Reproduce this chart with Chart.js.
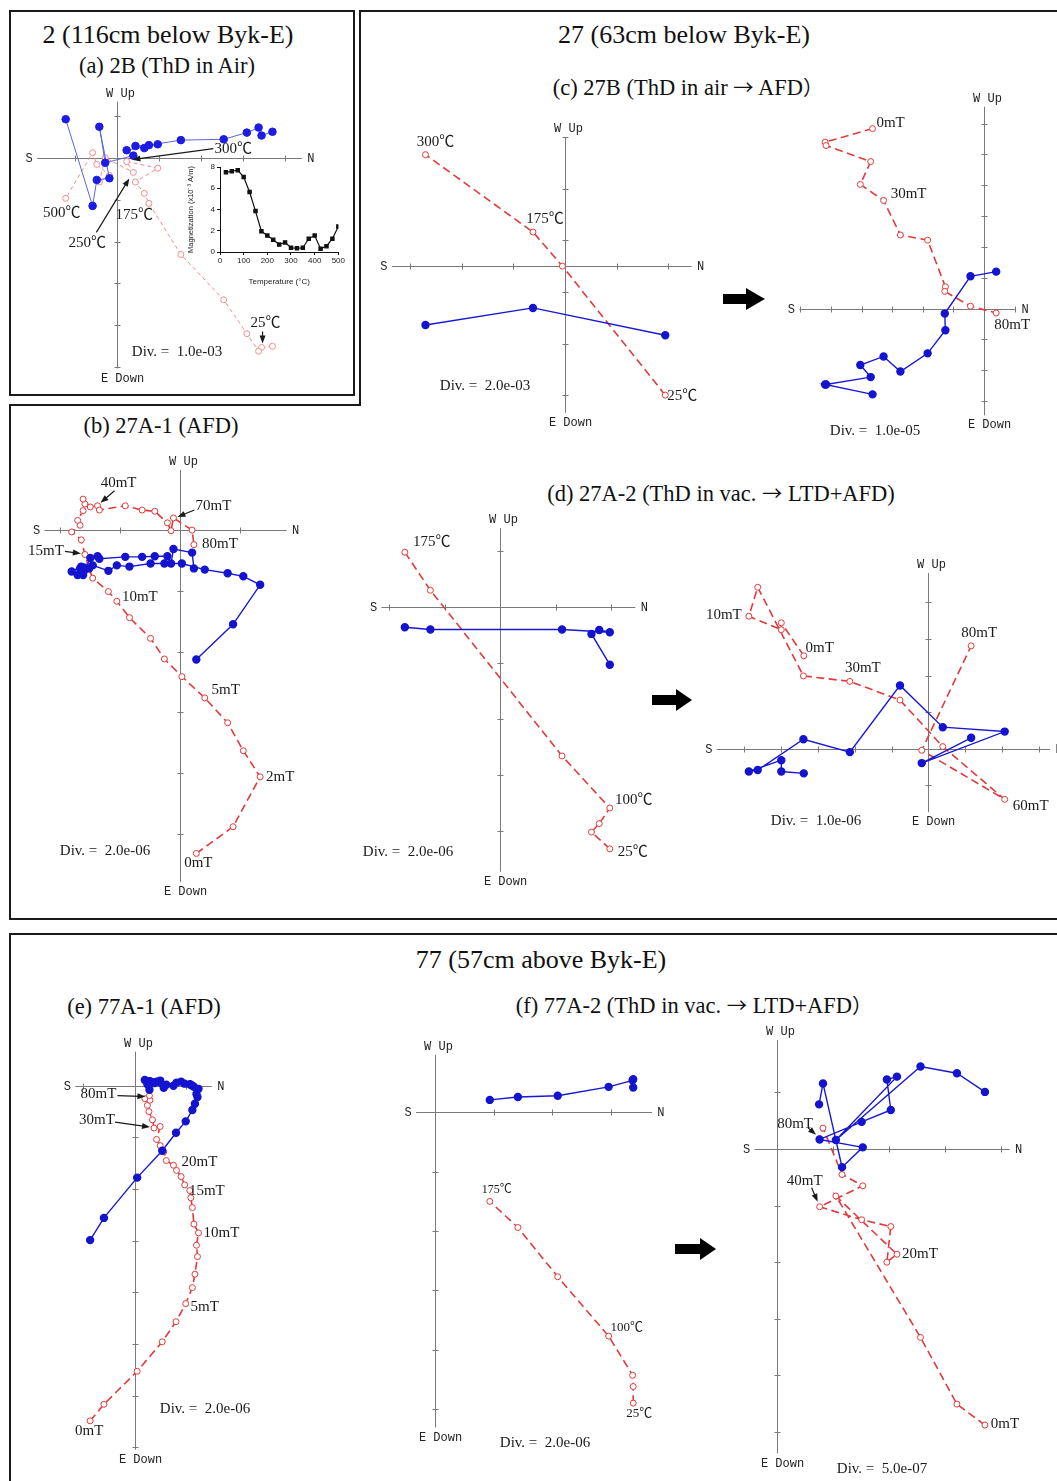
<!DOCTYPE html>
<html>
<head>
<meta charset="utf-8">
<script src="https://cdn.jsdelivr.net/npm/chart.js@4.4.1/dist/chart.umd.min.js"></script>
<style>
  html, body { margin: 0; padding: 0; background: #fff; }
  #fig { position: relative; width: 1057px; height: 1481px; overflow: hidden;
         font-family: "Liberation Serif", "Noto Sans CJK JP", serif; color: #111; }
  #fig canvas { position: absolute; }
  .t { position: absolute; white-space: nowrap; transform: translate(-50%, -50%); line-height: 1; }
  .big { font-size: 26px; }
  .sub { font-size: 22.5px; }
  .cj { font-family: "Noto Sans CJK JP", sans-serif; font-size: 0.9em; }
  .ln { position: absolute; background: #1a1a1a; }
</style>
</head>
<body>
<div id="fig">
  <!-- frames -->
  <div class="ln" style="left:9px;top:10px;width:346px;height:2px"></div>
  <div class="ln" style="left:9px;top:394px;width:346px;height:2px"></div>
  <div class="ln" style="left:9px;top:10px;width:2px;height:386px"></div>
  <div class="ln" style="left:353px;top:10px;width:2px;height:386px"></div>

  <div class="ln" style="left:359px;top:10px;width:698px;height:2px"></div>
  <div class="ln" style="left:359px;top:10px;width:2px;height:396px"></div>
  <div class="ln" style="left:9px;top:404px;width:352px;height:2px"></div>
  <div class="ln" style="left:9px;top:404px;width:2px;height:516px"></div>
  <div class="ln" style="left:9px;top:918px;width:1048px;height:2px"></div>

  <div class="ln" style="left:9px;top:933px;width:1048px;height:2px"></div>
  <div class="ln" style="left:9px;top:933px;width:2px;height:548px"></div>

  <!-- titles -->
  <div class="t big" style="left:168px;top:35px">2 (116cm below Byk-E)</div>
  <div class="t sub" style="left:167px;top:66px">(a) 2B (ThD in Air)</div>
  <div class="t big" style="left:684px;top:35px">27 (63cm below Byk-E)</div>
  <div class="t sub" style="left:688px;top:88px">(c) 27B (ThD in air <span class="cj">→</span> AFD<span class="cj">）</span></div>
  <div class="t sub" style="left:161px;top:426px">(b) 27A-1 (AFD)</div>
  <div class="t sub" style="left:721px;top:494px">(d) 27A-2 (ThD in vac. <span class="cj">→</span> LTD+AFD)</div>
  <div class="t big" style="left:541px;top:960px">77 (57cm above Byk-E)</div>
  <div class="t sub" style="left:144px;top:1007px">(e) 77A-1 (AFD)</div>
  <div class="t sub" style="left:694px;top:1006px">(f) 77A-2 (ThD in vac. <span class="cj">→</span> LTD+AFD<span class="cj">）</span></div>

  <!-- step arrows between paired diagrams -->
  <svg style="position:absolute;left:0;top:0" width="1057" height="1481">
    <polygon points="723,294 746,294 746,288 765,299 746,310 746,304 723,304" fill="#000"/>
    <polygon points="652,695 676,695 676,689 692,700 676,711 676,705 652,705" fill="#000"/>
    <polygon points="675,1244 700,1244 700,1238 716,1249 700,1260 700,1254 675,1254" fill="#000"/>
  </svg>

  <canvas id="zA"></canvas>
  <canvas id="inset"></canvas>
  <canvas id="zC1"></canvas>
  <canvas id="zC2"></canvas>
  <canvas id="zB"></canvas>
  <canvas id="zD1"></canvas>
  <canvas id="zD2"></canvas>
  <canvas id="zE"></canvas>
  <canvas id="zF1"></canvas>
  <canvas id="zF2"></canvas>
</div>

<script>
// All Zijderveld values are in axis divisions (one tick = one "Div.").
// north = x, west = horizontal projection (blue), up = vertical projection (red)

// (a) 2B, thermal demag in air
const aNorth = [3.70, 3.44, 3.37, 3.09, 2.54, 1.52, 0.76, 0.65, 0.44, 0.97, 0.23, 0.39, -0.28, -0.42, -0.18, -0.48, -0.58, -1.22];
const aWest  = [0.62, 0.53, 0.72, 0.60, 0.44, 0.42, 0.30, 0.23, 0.28, 0.32, 0.18, 0.05, -0.12, 0.74, -0.49, -0.53, -1.15, 0.92];
const aUp    = [-4.50, -4.53, -4.62, -4.20, -3.39, -2.31, -1.09, -0.85, -0.58, -0.25, -0.09, -0.35, 0.00, -0.58, -0.42, -0.16, 0.12, -0.97];

// (a) inset: magnetization vs temperature
const insetTemp = [25, 50, 75, 100, 125, 150, 175, 200, 225, 250, 275, 300, 325, 350, 375, 400, 425, 450, 475, 500];
const insetMag  = [7.5, 7.6, 7.7, 7.05, 5.65, 3.85, 1.95, 1.55, 1.15, 0.7, 0.9, 0.4, 0.35, 0.4, 1.25, 1.55, 0.3, 0.55, 1.25, 2.4];

// (c) 27B thermal part
const c1North = [1.94, -0.05, -0.62, -2.70];
const c1West  = [-1.34, null, -0.81, -1.14];
const c1Up    = [-2.50, 0.00, 0.66, 2.16];

// (c) 27B AF part
const c2North = [-3.64, -5.19, -5.16, -3.70, -4.04, -3.28, -2.73, -1.84, -1.26, -1.28, -0.44, 0.40];
const c2West  = [-2.78, -2.46, -2.46, -2.22, -1.83, -1.55, -2.04, -1.45, -0.70, -0.16, 1.05, 1.20];
const c2Up    = [5.84, 5.40, 5.29, 4.77, 4.03, 3.51, 2.39, 2.22, 0.71, 0.56, 0.08, -0.14];

// (b) 27A-1 AFD
const bNorth = [0.27, 0.88, 1.33, 1.05, 0.79, 0.41, 0.03, -0.26, -0.49, -0.84, -1.05, -1.19, -1.45, -1.51, -1.58, -1.64, -1.80, -1.66, -1.70, -1.61, -1.58, -1.61, -1.49, -1.37, -1.34, -0.91, -0.63, -0.42, -0.21, -0.15, -0.11, 0.20, 0.23];
const bWest  = [-2.13, -1.55, -0.90, -0.76, -0.71, -0.65, -0.55, -0.55, -0.55, -0.60, -0.58, -0.67, -0.58, -0.63, -0.65, -0.60, -0.68, -0.63, -0.74, -0.71, -0.62, -0.74, -0.46, -0.43, -0.47, -0.44, -0.44, -0.43, -0.43, -0.55, -0.31, -0.37, -0.63];
const bUp    = [-5.32, -4.88, -4.06, -3.63, -3.17, -2.76, -2.41, -2.12, -1.78, -1.44, -1.17, -1.01, -0.79, -0.64, -0.40, -0.16, -0.03, 0.08, 0.16, 0.32, 0.43, 0.51, 0.38, 0.40, 0.33, 0.40, 0.33, 0.31, 0.12, -0.01, 0.20, 0.00, -0.24];

// (d) 27A-2 thermal part
const d1North = [1.97, 1.64, 1.78, 1.97, 1.11, -1.26, -1.72];
const d1West  = [-1.03, -0.48, -0.41, -0.45, -0.40, -0.40, -0.36];
const d1Up    = [-4.32, -4.02, -3.87, -3.59, -2.66, 0.30, 0.98];

// (d) 27A-2 LTD+AFD part
const d2North = [-3.38, -3.99, -3.99, -4.87, -4.63, -3.39, -2.13, -0.77, 0.39, 2.07, -0.18, 1.16];
const d2West  = [-0.67, -0.62, -0.31, -0.62, -0.58, 0.26, -0.09, 1.73, 0.59, 0.47, -0.39, 0.30];
const d2Up    = [2.54, 3.44, 3.25, 3.62, 4.41, 1.99, 1.84, 1.33, 0.06, -1.38, -0.04, 2.81];

// (e) 77A-1 AFD
const eNorth = [-0.87, -0.60, 0.05, 0.54, 0.81, 1.00, 1.13, 1.18, 1.23, 1.21, 1.25, 1.16, 1.13, 1.10, 1.08, 0.98, 0.91, 0.82, 0.76, 0.62, 0.57, 0.50, 0.43, 0.50, 0.38, 0.35, 0.28, 0.25, 0.30, 0.20, 0.29];
const eWest  = [-2.99, -2.56, -1.78, -1.26, -0.91, -0.69, -0.47, -0.35, -0.22, -0.16, -0.06, -0.02, 0.00, 0.02, 0.03, 0.04, 0.08, 0.06, 0.00, 0.02, -0.04, 0.06, 0.08, 0.10, 0.05, 0.07, 0.08, 0.03, 0.09, 0.11, -0.08];
const eUp    = [-6.49, -6.17, -5.53, -4.96, -4.57, -4.22, -3.91, -3.65, -3.31, -3.09, -2.85, -2.68, -2.36, -2.17, -2.03, -1.92, -1.76, -1.64, -1.54, -1.45, -1.28, -1.16, -1.04, -0.79, -0.82, -0.66, -0.50, -0.38, -0.28, -0.25, -0.19];

// (f) 77A-2 thermal part
const f1North = [3.38, 3.38, 3.37, 2.96, 2.09, 1.41, 0.93];
const f1West  = [0.42, 0.56, 0.54, 0.43, 0.28, 0.26, 0.21];
const f1Up    = [-4.90, -4.62, -4.43, -3.77, -2.77, -1.94, -1.50];

// (f) 77A-2 LTD+AFD part
const f2North = [3.71, 3.21, 2.56, 1.05, 2.14, 1.96, 2.03, 1.51, 0.76, 1.53, 1.16, 0.82, 0.75];
const f2West  = [1.01, 1.34, 1.46, 0.16, 1.28, 1.23, 0.69, 0.48, 0.17, 0.03, -0.32, 1.16, 0.79];
const f2Up    = [-4.88, -4.51, -3.33, -0.83, -1.86, -2.00, -1.37, -1.25, -1.02, -0.65, -0.45, 0.37, 0.18];

const SERIF = '"Liberation Serif", "Noto Sans CJK JP", serif';
const MONO = '"Liberation Mono", "DejaVu Sans Mono", monospace';

function drawArrow(ctx, x1, y1, x2, y2) {
  const a = Math.atan2(y2 - y1, x2 - x1);
  const c = Math.cos(a), s = Math.sin(a);
  ctx.beginPath();
  ctx.moveTo(x1, y1);
  ctx.lineTo(x2 - 5 * c, y2 - 5 * s);
  ctx.stroke();
  ctx.beginPath();
  ctx.moveTo(x2, y2);
  ctx.lineTo(x2 - 8 * c + 3 * s, y2 - 8 * s - 3 * c);
  ctx.lineTo(x2 - 8 * c - 3 * s, y2 - 8 * s + 3 * c);
  ctx.closePath();
  ctx.fill();
}

function zijPlugin(p) {
  return {
    id: 'zij',
    beforeDatasetsDraw(chart) {
      const ctx = chart.ctx;
      const sx = chart.scales.x, sy = chart.scales.y;
      const x0 = Math.round(sx.getPixelForValue(0)) + 0.5;
      const y0 = Math.round(sy.getPixelForValue(0)) + 0.5;
      const xl = sx.getPixelForValue(-p.axis.left), xr = sx.getPixelForValue(p.axis.right);
      const yt = sy.getPixelForValue(p.axis.up), yb = sy.getPixelForValue(-p.axis.down);
      ctx.save();
      ctx.strokeStyle = '#7a7a7a';
      ctx.lineWidth = 1;
      ctx.beginPath();
      ctx.moveTo(xl, y0); ctx.lineTo(xr, y0);
      ctx.moveTo(x0, yt); ctx.lineTo(x0, yb);
      for (let k = -Math.floor(p.axis.left); k <= Math.floor(p.axis.right); k++) {
        if (k === 0) continue;
        const px = Math.round(sx.getPixelForValue(k)) + 0.5;
        ctx.moveTo(px, y0 - 3); ctx.lineTo(px, y0 + 3);
      }
      const sh = p.tickShift || 0;
      for (let k = Math.ceil(-p.axis.down - sh); k <= Math.floor(p.axis.up - sh); k++) {
        const v = k + sh;
        if (Math.abs(v) < 0.01) continue;
        const py = Math.round(sy.getPixelForValue(v)) + 0.5;
        ctx.moveTo(x0 - 3, py); ctx.lineTo(x0 + 3, py);
      }
      ctx.stroke();
      ctx.fillStyle = '#222';
      ctx.font = '12px ' + MONO;
      ctx.textAlign = 'center';
      ctx.textBaseline = 'middle';
      ctx.fillText('S', xl - 8, y0);
      ctx.fillText('N', xr + 9, y0);
      ctx.fillText('W Up', x0 + 3, yt - 8);
      ctx.fillText('E Down', x0 + 5, yb + 10);
      ctx.restore();
    },
    afterDatasetsDraw(chart) {
      const ctx = chart.ctx;
      ctx.save();
      ctx.fillStyle = '#1a1a1a';
      ctx.strokeStyle = '#1a1a1a';
      ctx.lineWidth = 1.2;
      ctx.textAlign = 'center';
      ctx.textBaseline = 'middle';
      ctx.font = '15px ' + SERIF;
      ctx.fillText(p.div, p.divAt[0] - p.box[0], p.divAt[1] - p.box[1]);
      p.notes.forEach(n => {
        const el = chart.getDatasetMeta(n.s === 'w' ? 0 : 1).data[n.i];
        ctx.font = (n.size || 15) + 'px ' + SERIF;
        ctx.fillText(n.text, el.x + n.dx, el.y + n.dy);
        if (n.arrow) {
          drawArrow(ctx, el.x + n.arrow[0], el.y + n.arrow[1], el.x + n.arrow[2], el.y + n.arrow[3]);
        }
      });
      ctx.restore();
    }
  };
}

function zijChart(p) {
  const cv = document.getElementById(p.id);
  const [left, top, w, h] = p.box;
  cv.width = w; cv.height = h;
  cv.style.left = left + 'px'; cv.style.top = top + 'px';
  const u = p.unit;
  const blue = p.light ? '#5868dc' : '#1818d4';
  const blueDot = p.light ? '#1c1ce4' : '#1414d0';
  const red = p.light ? '#f08c8c' : '#e23a3c';
  new Chart(cv, {
    type: 'scatter',
    data: {
      datasets: [
        {
          label: 'horizontal',
          data: p.north.map((n, i) => ({ x: n, y: p.west[i] })),
          showLine: true,
          spanGaps: true,
          borderColor: blue,
          borderWidth: p.light ? 1 : 1.4,
          pointBackgroundColor: blueDot,
          pointBorderColor: blueDot,
          pointRadius: p.light ? 3.8 : 3.5,
          clip: false,
        },
        {
          label: 'vertical',
          data: p.north.map((n, i) => ({ x: n, y: p.up[i] })),
          showLine: true,
          borderColor: red,
          borderWidth: p.light ? 1 : 1.6,
          borderDash: p.light ? [4, 3] : [8, 4.5],
          pointBackgroundColor: '#fff',
          pointBorderColor: red,
          pointBorderWidth: 1,
          pointRadius: 3,
          clip: false,
        },
      ],
    },
    options: {
      responsive: false,
      animation: false,
      events: [],
      layout: { padding: 0 },
      plugins: { legend: { display: false }, tooltip: { enabled: false } },
      scales: {
        x: { type: 'linear', display: false, min: (left - p.origin[0]) / u, max: (left + w - p.origin[0]) / u },
        y: { type: 'linear', display: false, min: (p.origin[1] - top - h) / u, max: (p.origin[1] - top) / u },
      },
    },
    plugins: [zijPlugin(p)],
  });
}

const plots = [
  {
    id: 'zA', box: [12, 85, 340, 308], origin: [115, 155], unit: 43.3, light: true,
    axis: { left: 1.9, right: 4.4, up: 1.34, down: 5.03 },
    north: aNorth, west: aWest, up: aUp,
    div: 'Div. =  1.0e-03', divAt: [177, 352],
    notes: [
      { s: 'up', i: 1, text: '25℃', dx: 4, dy: -24, arrow: [1, -16, 1, -4] },
      { s: 'up', i: 7, text: '175℃', dx: -10, dy: 22 },
      { s: 'up', i: 11, text: '250℃', dx: -46, dy: 71, arrow: [-37, 60, -4, 6] },
      { s: 'w', i: 11, text: '300℃', dx: 100, dy: -7, arrow: [80, -7, -1, 4] },
      { s: 'up', i: 17, text: '500℃', dx: -4, dy: 15 },
    ],
  },
  {
    id: 'zC1', box: [366, 100, 354, 340], origin: [565.7, 266], unit: 53.3, tickShift: 0.5,
    axis: { left: 3.35, right: 2.45, up: 2.5, down: 2.84 },
    north: c1North, west: c1West, up: c1Up,
    div: 'Div. =  2.0e-03', divAt: [485, 386],
    notes: [
      { i: 3, text: '300℃', dx: 10, dy: -13 },
      { i: 2, text: '175℃', dx: 12, dy: -13 },
      { i: 0, text: '25℃', dx: 17, dy: 1 },
    ],
  },
  {
    id: 'zC2', box: [770, 88, 287, 355], origin: [986.7, 310], unit: 31.8,
    axis: { left: 6.03, right: 1.05, up: 6.55, down: 3.46 },
    north: c2North, west: c2West, up: c2Up,
    div: 'Div. =  1.0e-05', divAt: [875, 431],
    notes: [
      { i: 0, text: '0mT', dx: 18, dy: -6 },
      { i: 5, text: '30mT', dx: 25, dy: -6 },
      { i: 11, text: '80mT', dx: 16, dy: 12 },
    ],
  },
  {
    id: 'zB', box: [12, 440, 340, 472], origin: [180, 526.7], unit: 62.2,
    axis: { left: 2.25, right: 1.77, up: 0.99, down: 5.79 },
    north: bNorth, west: bWest, up: bUp,
    div: 'Div. =  2.0e-06', divAt: [105, 851],
    notes: [
      { i: 0, text: '0mT', dx: 2, dy: 10 },
      { i: 2, text: '2mT', dx: 20, dy: 0 },
      { i: 5, text: '5mT', dx: 21, dy: -8 },
      { i: 10, text: '10mT', dx: 23, dy: -4 },
      { i: 14, text: '15mT', dx: -39, dy: -3, arrow: [-20, -3, -4, -1] },
      { i: 23, text: '40mT', dx: 21, dy: -23, arrow: [17, -15, 3, -3] },
      { i: 30, text: '70mT', dx: 40, dy: -12, arrow: [21, -8, 4, -1] },
      { i: 32, text: '80mT', dx: 26, dy: -1 },
    ],
  },
  {
    id: 'zD1', box: [352, 505, 318, 405], origin: [500, 604.3], unit: 57.5,
    axis: { left: 2.14, right: 2.43, up: 1.41, down: 4.73 },
    north: d1North, west: d1West, up: d1Up,
    div: 'Div. =  2.0e-06', divAt: [408, 852],
    notes: [
      { i: 6, text: '175℃', dx: 27, dy: -10 },
      { i: 3, text: '100℃', dx: 24, dy: -8 },
      { i: 0, text: '25℃', dx: 23, dy: 3 },
    ],
  },
  {
    id: 'zD2', box: [695, 548, 362, 300], origin: [930, 750.7], unit: 38,
    axis: { left: 5.74, right: 3.3, up: 4.8, down: 1.73 },
    north: d2North, west: d2West, up: d2Up,
    div: 'Div. =  1.0e-06', divAt: [816, 821],
    notes: [
      { i: 0, text: '0mT', dx: 16, dy: -8 },
      { i: 3, text: '10mT', dx: -25, dy: -1 },
      { i: 6, text: '30mT', dx: 13, dy: -13 },
      { i: 9, text: '60mT', dx: 26, dy: 7 },
      { i: 11, text: '80mT', dx: 8, dy: -13 },
    ],
  },
  {
    id: 'zE', box: [12, 1025, 320, 450], origin: [133.3, 1081.7], unit: 52.9,
    axis: { left: 1.16, right: 1.51, up: 0.66, down: 7.05 },
    north: eNorth, west: eWest, up: eUp,
    div: 'Div. =  2.0e-06', divAt: [205, 1409],
    notes: [
      { i: 0, text: '0mT', dx: -1, dy: 10 },
      { i: 5, text: '5mT', dx: 19, dy: 3 },
      { i: 10, text: '10mT', dx: 23, dy: 0 },
      { i: 14, text: '15mT', dx: 17, dy: 1 },
      { i: 18, text: '20mT', dx: 26, dy: -3 },
      { i: 24, text: '30mT', dx: -57, dy: -8, arrow: [-39, -6, -4, -1] },
      { i: 30, text: '80mT', dx: -51, dy: -1, arrow: [-32, 0, -4, 1] },
    ],
  },
  {
    id: 'zF1', box: [385, 1025, 290, 450], origin: [431.7, 1109], unit: 60.8,
    axis: { left: 0.33, right: 3.70, up: 0.97, down: 5.31 },
    north: f1North, west: f1West, up: f1Up,
    div: 'Div. =  2.0e-06', divAt: [545, 1443],
    notes: [
      { i: 6, text: '175℃', dx: 7, dy: -12, size: 12 },
      { i: 3, text: '100℃', dx: 18, dy: -9, size: 13 },
      { i: 0, text: '25℃', dx: 6, dy: 10, size: 13 },
    ],
  },
  {
    id: 'zF2', box: [722, 1015, 335, 466], origin: [773.3, 1146.7], unit: 57.9,
    axis: { left: 0.40, right: 4.15, up: 1.93, down: 5.38 },
    north: f2North, west: f2West, up: f2Up,
    div: 'Div. =  5.0e-07', divAt: [882, 1469],
    notes: [
      { i: 0, text: '0mT', dx: 20, dy: -1 },
      { i: 4, text: '20mT', dx: 23, dy: 0 },
      { i: 8, text: '40mT', dx: -15, dy: -26, arrow: [-8, -19, -2, -5] },
      { i: 12, text: '80mT', dx: -24, dy: -15, arrow: [-11, -11, -3, -4] },
    ],
  },
];

plots.forEach(zijChart);

// inset of (a)
const insetCv = document.getElementById('inset');
insetCv.width = 160; insetCv.height = 130;
insetCv.style.left = '186px'; insetCv.style.top = '158px';
const tickFont = { size: 8, family: '"Liberation Sans", Arial, sans-serif' };
new Chart(insetCv, {
  type: 'scatter',
  data: {
    datasets: [{
      data: insetTemp.map((t, i) => ({ x: t, y: insetMag[i] })),
      showLine: true,
      borderColor: '#111',
      backgroundColor: '#111',
      borderWidth: 1.2,
      pointStyle: 'rect',
      pointRadius: 2.3,
    }],
  },
  options: {
    responsive: false,
    animation: false,
    events: [],
    layout: { padding: { top: 9, right: 7, left: 0, bottom: 0 } },
    plugins: { legend: { display: false }, tooltip: { enabled: false } },
    scales: {
      x: {
        type: 'linear', min: 0, max: 500,
        ticks: { stepSize: 100, font: tickFont, color: '#222', padding: 1, maxRotation: 0 },
        grid: { drawOnChartArea: false, tickLength: 3, color: '#111' },
        border: { color: '#111' },
        title: { display: true, text: 'Temperature (°C)', font: tickFont, color: '#222', padding: 1 },
        afterFit(s) { s.height = 36; },
      },
      y: {
        type: 'linear', min: 0, max: 8,
        ticks: { stepSize: 2, font: tickFont, color: '#222', padding: 2 },
        grid: { drawOnChartArea: false, tickLength: 3, color: '#111' },
        border: { color: '#111' },
        title: { display: true, text: 'Magnetization (x10⁻³ A/m)', font: { size: 7.5, family: tickFont.family }, color: '#222', padding: 0 },
        afterFit(s) { s.width = 34; },
      },
    },
  },
});
</script>
</body>
</html>
